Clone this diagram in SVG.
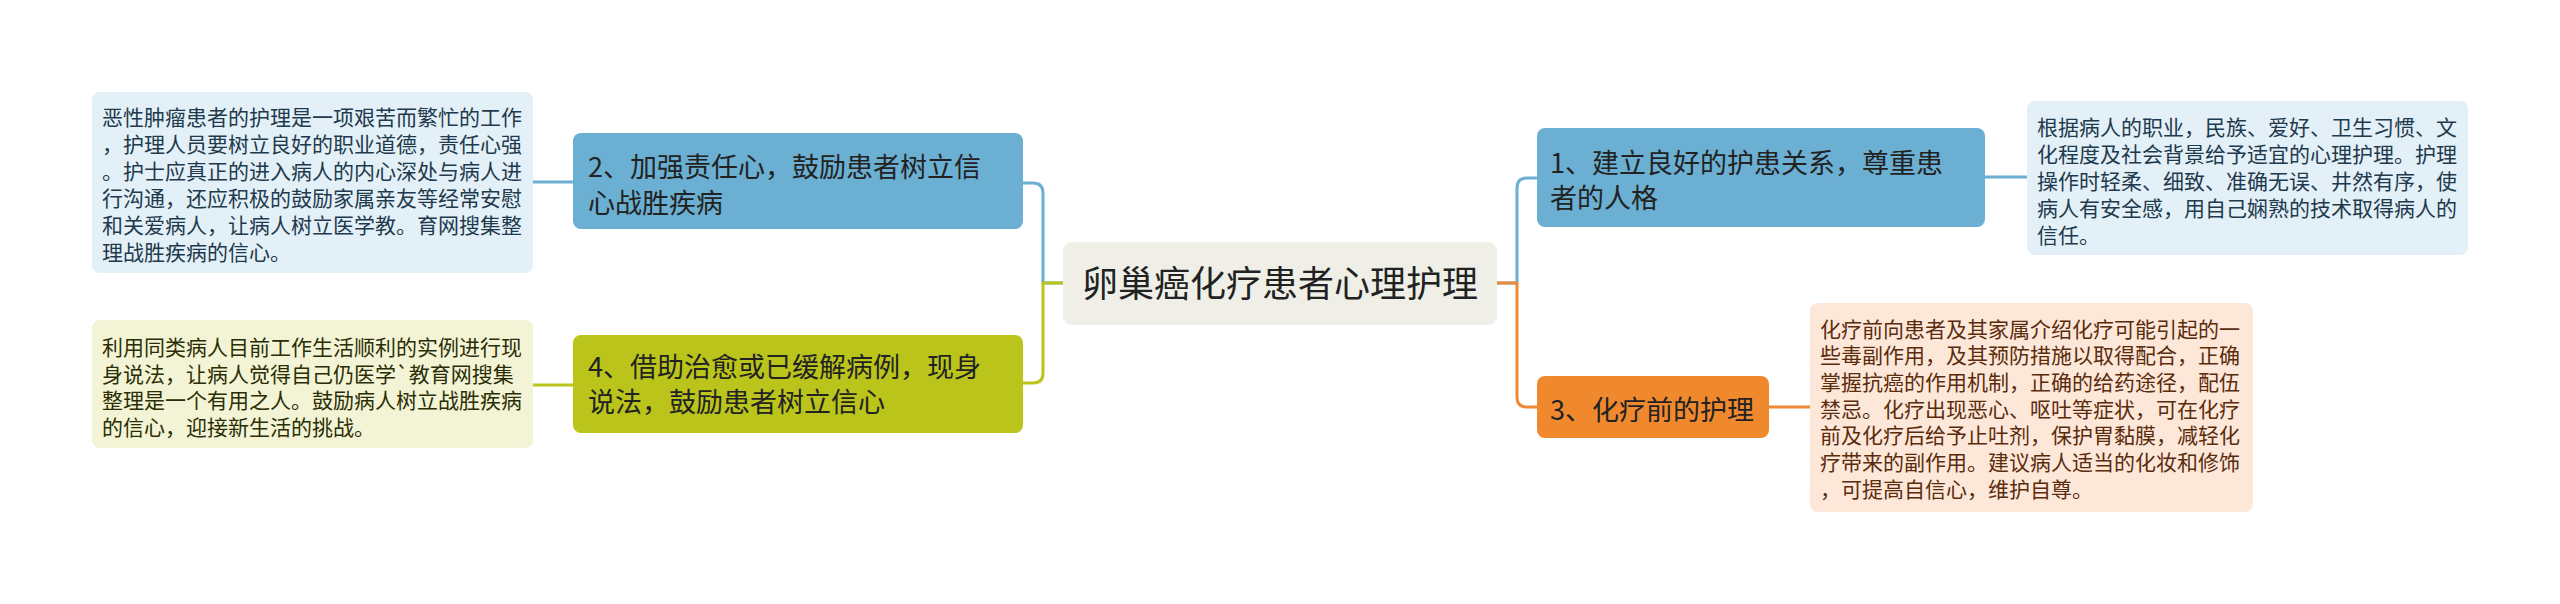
<svg xmlns="http://www.w3.org/2000/svg" width="2560" height="604" viewBox="0 0 2560 604">
<style>
text{font-family:"Noto Sans CJK SC","Noto Sans",sans-serif}
.c{fill:none;stroke-width:3;stroke-linejoin:round}
.d{font-size:21px}
.n{font-size:27px;fill:#222}
</style>
<rect width="2560" height="604" fill="#ffffff"/>
<g id="connectors">
<path class="c" stroke="#6BAFD2" d="M1063,283 H1043 V193 Q1043,183 1033,183 H1023"/>
<path class="c" stroke="#BAC41B" d="M1063,283 H1043 V373 Q1043,383 1033,383 H1023"/>
<path class="c" stroke="#6BAFD2" d="M1497,283 H1517 V188 Q1517,178 1527,178 H1537"/>
<path class="c" stroke="#EE8A35" d="M1497,283 H1517 V397 Q1517,407 1527,407 H1537"/>
<path class="c" stroke="#6BAFD2" d="M573,182 H533"/>
<path class="c" stroke="#BAC41B" d="M573,385 H533"/>
<path class="c" stroke="#6BAFD2" d="M1985,177 H2027"/>
<path class="c" stroke="#EE8A35" d="M1769,407 H1810"/>
</g>
<g id="center">
<rect x="1063" y="242" width="434" height="83" rx="9" fill="#EFEFE7"/>
<text x="1280" y="297" font-size="36" text-anchor="middle" fill="#222">卵巢癌化疗患者心理护理</text>
</g>
<g id="node2">
<rect x="573" y="133" width="450" height="96" rx="8" fill="#6BAFD2"/>
<text class="n" x="588" y="177">2、加强责任心，鼓励患者树立信</text>
<text class="n" x="588" y="213">心战胜疾病</text>
</g>
<g id="node2-detail">
<rect x="92" y="92" width="441" height="181" rx="8" fill="#E3F0F8"/>
<g class="d" fill="#1E3A4C">
<text x="102" y="125">恶性肿瘤患者的护理是一项艰苦而繁忙的工作</text>
<text x="102" y="152">，护理人员要树立良好的职业道德，责任心强</text>
<text x="102" y="179">。护士应真正的进入病人的内心深处与病人进</text>
<text x="102" y="206">行沟通，还应积极的鼓励家属亲友等经常安慰</text>
<text x="102" y="233">和关爱病人，让病人树立医学教。育网搜集整</text>
<text x="102" y="260">理战胜疾病的信心。</text>
</g>
</g>
<g id="node4">
<rect x="573" y="335" width="450" height="98" rx="8" fill="#BAC41B"/>
<text class="n" x="588" y="377">4、借助治愈或已缓解病例，现身</text>
<text class="n" x="588" y="412">说法，鼓励患者树立信心</text>
</g>
<g id="node4-detail">
<rect x="92" y="320" width="441" height="128" rx="8" fill="#F3F4D6"/>
<g class="d" fill="#2B2E05">
<text x="102" y="355">利用同类病人目前工作生活顺利的实例进行现</text>
<text x="102" y="381.7">身说法，让病人觉得自己仍医学`教育网搜集</text>
<text x="102" y="408.4">整理是一个有用之人。鼓励病人树立战胜疾病</text>
<text x="102" y="435">的信心，迎接新生活的挑战。</text>
</g>
</g>
<g id="node1">
<rect x="1537" y="128" width="448" height="99" rx="8" fill="#6BAFD2"/>
<text class="n" x="1550" y="173">1、建立良好的护患关系，尊重患</text>
<text class="n" x="1550" y="208">者的人格</text>
</g>
<g id="node1-detail">
<rect x="2027" y="101" width="441" height="154" rx="8" fill="#E3F0F8"/>
<g class="d" fill="#1E3A4C">
<text x="2037" y="135">根据病人的职业，民族、爱好、卫生习惯、文</text>
<text x="2037" y="162">化程度及社会背景给予适宜的心理护理。护理</text>
<text x="2037" y="189">操作时轻柔、细致、准确无误、井然有序，使</text>
<text x="2037" y="216">病人有安全感，用自己娴熟的技术取得病人的</text>
<text x="2037" y="243">信任。</text>
</g>
</g>
<g id="node3">
<rect x="1537" y="376" width="232" height="62" rx="8" fill="#F0892D"/>
<text class="n" x="1550" y="420">3、化疗前的护理</text>
</g>
<g id="node3-detail">
<rect x="1810" y="303" width="443" height="209" rx="8" fill="#FDE7D9"/>
<g class="d" fill="#5A2C0C">
<text x="1820" y="336.5">化疗前向患者及其家属介绍化疗可能引起的一</text>
<text x="1820" y="363.2">些毒副作用，及其预防措施以取得配合，正确</text>
<text x="1820" y="389.9">掌握抗癌的作用机制，正确的给药途径，配伍</text>
<text x="1820" y="416.6">禁忌。化疗出现恶心、呕吐等症状，可在化疗</text>
<text x="1820" y="443.3">前及化疗后给予止吐剂，保护胃黏膜，减轻化</text>
<text x="1820" y="470">疗带来的副作用。建议病人适当的化妆和修饰</text>
<text x="1820" y="496.7">，可提高自信心，维护自尊。</text>
</g>
</g>
</svg>
